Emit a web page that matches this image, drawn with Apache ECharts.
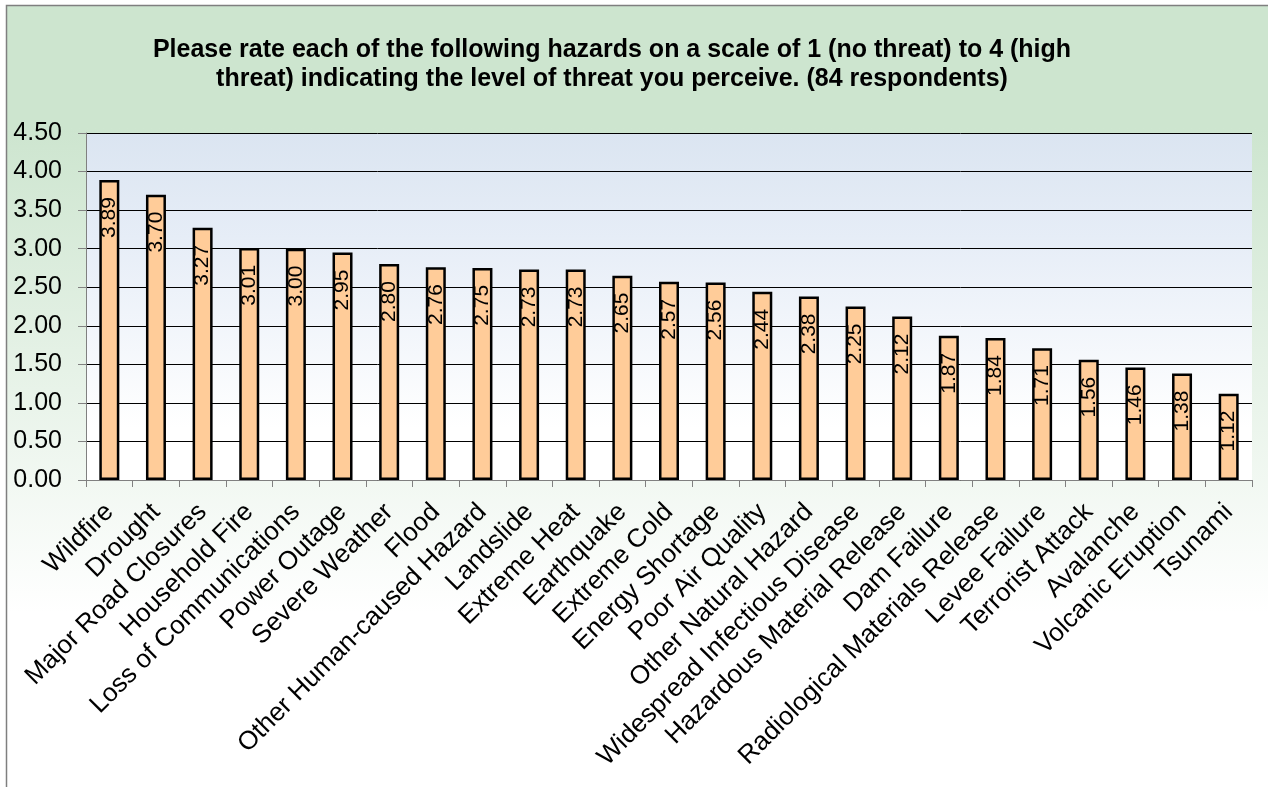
<!DOCTYPE html>
<html>
<head>
<meta charset="utf-8">
<script src="https://cdn.jsdelivr.net/npm/echarts@6/dist/echarts.min.js"></script>
<style>
html,body{margin:0;padding:0;background:#fff;}
#chart{width:1268px;height:787px;}
</style>
</head>
<body>
<div id="chart"></div>
<script>
var categories = ["Wildfire","Drought","Major Road Closures","Household Fire","Loss of Communications","Power Outage","Severe Weather","Flood","Other Human-caused Hazard","Landslide","Extreme Heat","Earthquake","Extreme Cold","Energy Shortage","Poor Air Quality","Other Natural Hazard","Widespread Infectious Disease","Hazardous Material Release","Dam Failure","Radiological Materials Release","Levee Failure","Terrorist Attack","Avalanche","Volcanic Eruption","Tsunami"];
var ratings = [3.89,3.70,3.27,3.01,3.00,2.95,2.80,2.76,2.75,2.73,2.73,2.65,2.57,2.56,2.44,2.38,2.25,2.12,1.87,1.84,1.71,1.56,1.46,1.38,1.12];
var yTicks = {min: 0, max: 4.5, interval: 0.5};
var titleText = "Please rate each of the following hazards on a scale of 1 (no threat) to 4 (high\nthreat) indicating the level of threat you perceive. (84 respondents)";

var chart = echarts.init(document.getElementById('chart'), null, {renderer: 'canvas'});
var font = '"Liberation Sans", Arial, sans-serif';
chart.setOption({
  animation: false,
  graphic: [{
    type: 'rect', z: -10, silent: true,
    shape: {x: 6.5, y: 5.5, width: 1300, height: 820},
    style: {
      fill: new echarts.graphic.LinearGradient(0, 0, 0, 1, [
        {offset: 0, color: '#cde5cf'},
        {offset: 0.15, color: '#cde5cf'},
        {offset: 0.74, color: '#ffffff'},
        {offset: 1, color: '#ffffff'}
      ]),
      stroke: '#7f7f7f', lineWidth: 1.5
    }
  }],
  title: {
    text: titleText,
    left: 607, top: 31, textAlign: 'center',
    textStyle: {fontFamily: font, fontSize: 25, fontWeight: 'bold', color: '#000', lineHeight: 29}
  },
  grid: {
    left: 86, right: 16, top: 133, bottom: 307,
    show: true, borderWidth: 0,
    backgroundColor: new echarts.graphic.LinearGradient(0, 0, 0, 1, [
      {offset: 0, color: '#dbe5f1'},
      {offset: 0.3, color: '#e6edf7'},
      {offset: 0.85, color: '#ffffff'},
      {offset: 1, color: '#ffffff'}
    ])
  },
  xAxis: {
    type: 'category', data: categories,
    axisLine: {lineStyle: {color: '#808080', width: 1}},
    axisTick: {show: true, length: 7, lineStyle: {color: '#808080'}},
    axisLabel: {rotate: 45, interval: 0, margin: 28, fontFamily: font, fontSize: 26, color: '#000'}
  },
  yAxis: {
    type: 'value', min: yTicks.min, max: yTicks.max, interval: yTicks.interval,
    axisLine: {show: true, lineStyle: {color: '#808080', width: 1}},
    axisTick: {show: true, length: 8, lineStyle: {color: '#808080'}},
    axisLabel: {margin: 24, fontFamily: font, fontSize: 25, color: '#000',
      formatter: function (v) { return v.toFixed(2); }},
    splitLine: {show: true, lineStyle: {color: '#000', width: 1}}
  },
  series: [{
    type: 'bar', data: ratings, barWidth: 20,
    itemStyle: {color: '#ffcc99', borderColor: '#000', borderWidth: 2.5},
    label: {
      show: true, position: 'insideTop', distance: 17, rotate: 90,
      align: 'right', verticalAlign: 'middle',
      fontFamily: font, fontSize: 21, color: '#000',
      formatter: function (p) { return p.value.toFixed(2); }
    }
  }]
});
</script>
</body>
</html>
